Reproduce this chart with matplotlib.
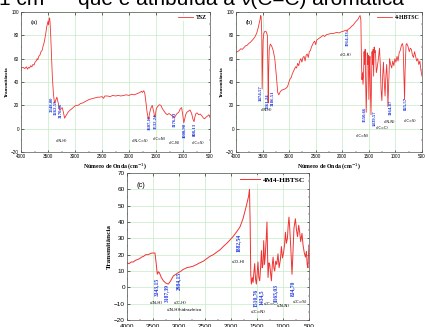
import matplotlib

matplotlib.use("Agg")
import matplotlib.pyplot as plt
from matplotlib.ticker import MultipleLocator

# ---- spectra (wavenumber cm-1, transmittance) ----
tsz_wn = [4000, 3960, 3930, 3900, 3880, 3860, 3840, 3820, 3800, 3780,
          3760, 3740, 3720, 3700, 3690, 3670, 3650, 3630, 3610, 3590,
          3570, 3555, 3540, 3525, 3510, 3500, 3490, 3480, 3470, 3462,
          3450, 3435, 3420, 3400, 3380, 3360, 3336, 3310, 3286, 3260,
          3236, 3215, 3192, 3170, 3130, 3090, 3060, 3036, 3000, 2974,
          2940, 2900, 2860, 2820, 2780, 2740, 2700, 2660, 2620, 2580,
          2540, 2500, 2470, 2450, 2400, 2350, 2300, 2250, 2200, 2150,
          2100, 2050, 2000, 1950, 1900, 1850, 1800, 1770, 1750, 1730,
          1710, 1690, 1665, 1645, 1635, 1620, 1600, 1570, 1545, 1525,
          1510, 1495, 1470, 1440, 1410, 1380, 1350, 1320, 1290, 1260,
          1230, 1200, 1175, 1160, 1140, 1110, 1080, 1050, 1025, 1005,
          985, 970, 950, 930, 900, 870, 840, 815, 795, 780,
          760, 740, 710, 680, 650, 620, 600, 570, 540, 520,
          500]
tsz_t = [52, 52.5, 51.5, 53, 51, 52.5, 52, 54, 53, 55,
         54.5, 57, 58, 60, 59, 62, 63, 66, 67, 71,
         74, 78, 82, 87, 90, 92, 89, 94, 95, 91,
         80, 62, 45, 30, 22, 24, 27, 22, 16, 17,
         18, 14, 9, 11, 14, 16, 17, 18, 19.5, 20,
         20, 21.5, 22, 23, 24, 25, 25.5, 26, 26.5, 27,
         27, 27.5, 26, 28, 28, 27.5, 28.5, 28, 28.5, 28,
         28.5, 29, 28.5, 29.5, 29, 30, 31, 32, 31, 32.5,
         31, 24, 14, 9, 8, 13, 17, 20, 15, 10,
         12, 17, 19, 20.5, 20, 17, 15, 13, 12, 13,
         12, 11, 10, 9, 11, 13, 14, 17, 18, 12,
         5, 8, 12, 14, 15, 16, 13, 8, 6, 10,
         13, 13.5, 12, 12.5, 11, 9, 8.5, 10, 11, 12,
         10]

hbtsc_wn = [4000, 3970, 3940, 3910, 3880, 3850, 3820, 3790, 3760, 3730,
            3700, 3670, 3640, 3610, 3585, 3565, 3550, 3535, 3527, 3515,
            3508, 3500, 3490, 3475, 3455, 3430, 3410, 3400, 3394, 3388,
            3375, 3355, 3330, 3300, 3270, 3240, 3215, 3195, 3170, 3140,
            3110, 3080, 3050, 3030, 3010, 2990, 2960, 2940, 2910, 2880,
            2860, 2840, 2820, 2800, 2780, 2760, 2740, 2720, 2700, 2680,
            2660, 2640, 2620, 2600, 2580, 2560, 2540, 2520, 2500, 2480,
            2450, 2420, 2390, 2360, 2330, 2300, 2260, 2220, 2180, 2140,
            2100, 2060, 2020, 1980, 1950, 1925, 1910, 1895, 1860, 1820,
            1790, 1760, 1730, 1700, 1680, 1665, 1650, 1640, 1630, 1620,
            1610, 1600, 1590, 1580, 1570, 1560, 1550, 1540, 1530, 1520,
            1510, 1500, 1490, 1480, 1470, 1460, 1450, 1440, 1430, 1420,
            1410, 1400, 1390, 1376, 1360, 1344, 1320, 1300, 1285, 1270,
            1255, 1240, 1225, 1210, 1195, 1180, 1165, 1150, 1142, 1130,
            1110, 1090, 1070, 1050, 1030, 1010, 990, 970, 950, 930,
            910, 890, 870, 855, 840, 828, 818, 800, 785, 760,
            740, 720, 700, 680, 660, 640, 620, 600, 580, 560,
            540, 520, 500]
hbtsc_t = [65.5, 66, 67, 68.5, 68, 69.5, 71, 71.5, 73, 74,
           75.5, 77, 79, 82, 86, 90, 93, 97, 96, 80,
           34, 55, 76, 82, 83.5, 83, 80, 50, 22, 45,
           68, 72.5, 71, 67, 60, 45, 31, 29, 31.5, 33,
           33.5, 34, 35, 36, 39, 42, 44, 47, 50, 53,
           52, 56, 54, 58, 60, 57, 61, 62, 58, 63,
           64, 61, 66, 67, 70, 72, 74, 75, 72, 76,
           77, 78, 79, 80, 79, 80.5, 81, 81.5, 81.5, 82,
           82.5, 82, 83, 83.5, 84, 84.5, 83, 85, 86, 88,
           89, 91, 92.5, 94, 96, 97, 93, 60, 42, 48,
           38, 45, 66, 55, 68, 40, 14, 35, 65, 55,
           63, 25, 50, 62, 30, 12, 40, 66, 55, 68,
           45, 70, 65, 67, 48, 52, 60, 69, 55, 33,
           24, 45, 57, 40, 28, 45, 55, 40, 19, 35,
           60, 55, 52, 58, 54, 60, 57, 62, 58, 65,
           67, 71, 73, 70, 45, 25, 50, 72, 73, 70,
           66, 69, 68, 63, 61, 66, 62, 58, 60, 55,
           58, 50, 45]

m4_wn = [4000, 3960, 3920, 3880, 3840, 3800, 3760, 3720, 3680, 3640,
         3600, 3560, 3520, 3490, 3462, 3440, 3417, 3395, 3378, 3340,
         3300, 3250, 3205, 3160, 3109, 3060, 3013, 2960, 2917, 2850,
         2780, 2724, 2660, 2600, 2532, 2470, 2404, 2340, 2276, 2210,
         2148, 2080, 2019, 1950, 1891, 1827, 1769, 1704, 1660, 1645,
         1632, 1620, 1608, 1590, 1575, 1560, 1544, 1528, 1512, 1496,
         1481, 1465, 1448, 1431, 1415, 1400, 1385, 1371, 1355, 1340,
         1322, 1308, 1288, 1270, 1255, 1240, 1223, 1205, 1190, 1175,
         1160, 1140, 1120, 1096, 1075, 1050, 1031, 1010, 990, 970,
         954, 935, 915, 900, 885, 870, 850, 827, 810, 790,
         762, 740, 720, 698, 680, 660, 635, 615, 590, 569,
         550, 535, 520, 510, 500]
m4_t = [15, 14.5, 15.5, 15.5, 16.5, 17, 17.5, 18.5, 19, 20,
        20, 20.5, 21, 21, 21, 15, 8, 9.5, 9, 6,
        4, 2.5, 2, 4, 7, 8, 9, 10, 11, 12,
        12.5, 13, 14, 15, 16, 17.5, 19, 20, 21.5, 23,
        25, 27, 29, 31.5, 34, 37, 42, 50, 56, 60,
        40, 8, 2, 6, 3, 9, 14.5, 5, 2, 9,
        15.5, 6, 4, 12, 22.5, 12, 14, 28.6, 14, 20,
        30, 40, 6, 15, 14, 9, 4, 14, 18.5, 12,
        10, 16, 14, 20.5, 12, 17, 25, 18, 21, 26,
        33.7, 27, 30, 38, 43, 36, 24, 8, 20, 36,
        42, 35, 31, 38, 34, 28, 33, 26, 21, 18.5,
        22, 14, 12, 20, 26]

tsz_peaks = ["3348,00", "3262,55", "3170,96", "1607,11", "1532,24", "1176,93", "1000,90", "808,13"]
hbtsc_peaks = ["3474,57", "3361,24", "3186,51", "1914,33", "1550,66", "1439,57", "1164,87", "825,57"]
m4_peaks = ["3343,15", "3187,39", "2984,15", "1882,54", "1510,76", "1434,5", "1165,03", "834,70"]

RED = "#f03232"
BLUE = "#1f35e0"
GRID = "#c4ecc4"
SERIF = "Liberation Serif"
SANS = "Liberation Sans"


def style_axes(ax, ylim, ymajor, yminor, tick_fs, lab_fs, letter, leg_fs, xlabel=True, xpad=1.5):
    ax.set_xlim(4000, 500)
    ax.set_ylim(*ylim)
    ax.xaxis.set_major_locator(MultipleLocator(500))
    ax.xaxis.set_minor_locator(MultipleLocator(250))
    ax.yaxis.set_major_locator(MultipleLocator(ymajor))
    ax.yaxis.set_minor_locator(MultipleLocator(yminor))
    ax.grid(True, which="major", color=GRID, linewidth=0.5)
    ax.set_axisbelow(True)
    ax.tick_params(which="major", direction="in", length=1.8, width=0.4, labelsize=tick_fs, pad=1.5,
                   top=True, right=True)
    ax.tick_params(axis="x", which="major", pad=xpad)
    ax.tick_params(which="minor", direction="in", length=1.0, width=0.3, top=True, right=True)
    for lab in ax.get_xticklabels() + ax.get_yticklabels():
        lab.set_family(SANS)
    for s in ax.spines.values():
        s.set_linewidth(0.5)
        s.set_color("#555555")
    ax.set_ylabel("Transmitância", family=SERIF, fontweight="bold", fontsize=lab_fs, labelpad=1.5)
    if xlabel:
        ax.set_xlabel("Número de Onda (cm$^{-1}$)", family=SERIF, fontweight="bold",
                      fontsize=lab_fs + 0.6, labelpad=1.2)
    ax.text(0.05, 0.94, letter, transform=ax.transAxes, fontsize=leg_fs, va="top", family=SANS)
    leg = ax.legend(loc="upper right", frameon=True, handlelength=2.6,
                    borderaxespad=0.25, borderpad=0.2, handletextpad=0.5,
                    prop={"family": SERIF, "weight": "bold", "size": leg_fs})
    leg.get_frame().set_edgecolor("none")
    leg.get_frame().set_facecolor("white")


def peak_labels(ax, texts, xs, ytops, fs):
    for t, x, y in zip(texts, xs, ytops):
        ax.text(x, y, t, rotation=90, va="top", ha="center", color=BLUE, fontsize=fs,
                fontweight="bold", family=SERIF)


def notes(ax, items, fs):
    for t, x, y in items:
        ax.text(x, y, t, ha="center", va="center", fontsize=fs, family="DejaVu Sans")


fig = plt.figure(figsize=(4.25, 3.27), dpi=100)
W, H = 425.0, 327.0


def px_axes(x0, y0, x1, y1):
    return fig.add_axes([x0 / W, 1 - y1 / H, (x1 - x0) / W, (y1 - y0) / H])


# top line of running text, cut off by the crop of the page
TOP = [SANS, "DejaVu Sans"]
fig.text(-1 / W, 1 - 5 / H, "1 cm⁻¹", family=TOP, fontsize=15, va="baseline")
fig.text(78 / W, 1 - 5 / H, "que é atribuída a", family=TOP, fontsize=15, va="baseline")
fig.text(240 / W, 1 - 5 / H, "ν(C=C) aromática", family=TOP, fontsize=15, va="baseline")

# (a) TSZ
ax_a = px_axes(21, 12, 210, 152)
ax_a.plot(tsz_wn, tsz_t, color=RED, lw=0.6, label="TSZ")
style_axes(ax_a, (-20, 100), 20, 10, 3.3, 3.6, "(a)", 4.2)
peak_labels(ax_a, tsz_peaks, [3442, 3361, 3267, 1626, 1519, 1167, 979, 791],
            [27.4, 24.6, 22, 11.7, 13.4, 14.3, 4.9, 4.9], 3.4)
notes(ax_a, [("ν(N-H)", 3250, -11), ("ν(N-C=S)", 1800, -11), ("ν(C=N)", 1440, -9),
             ("ν(C-N)", 1160, -12.5), ("ν(C=S)", 720, -12.5)], 2.6)

# (b) 4-HBTSC
ax_b = px_axes(236, 12, 422, 152)
ax_b.plot(hbtsc_wn, hbtsc_t, color=RED, lw=0.6, label="4-HBTSC")
style_axes(ax_b, (-20, 100), 20, 10, 3.3, 3.6, "(b)", 4.2)
peak_labels(ax_b, hbtsc_peaks, [3544, 3416, 3316, 1909, 1591, 1401, 1086, 800],
            [37, 30.6, 33, 84.6, 19, 16, 24.6, 27.4], 3.4)
notes(ax_b, [("ν(N-H)", 3430, 16), ("ν(O-H)", 1928, 63), ("ν(C=N)", 1624, -6),
             ("ν(C=C)", 1243, 0.6), ("ν(N-N)", 1110, 5.7), ("ν(C=S)", 730, 6.6)], 2.6)

# (c) 4M4-HBTSC, its x tick labels run past the bottom of the crop
ax_c = px_axes(127, 173, 309, 320)
ax_c.plot(m4_wn, m4_t, color=RED, lw=0.7, label="4M4-HBTSC")
style_axes(ax_c, (-20, 70), 10, 5, 4.6, 5.2, "(c)", 5.4, xlabel=False, xpad=3.0)
peak_labels(ax_c, m4_peaks, [3429, 3237, 3013, 1863, 1544, 1415, 1160, 820],
            [6, 2, 9.6, 33, -1, -1.6, 2.2, 4.4], 4.0)
notes(ax_c, [("ν(N-H)", 3429, -9.8), ("ν(N-H)hidrazínico", 2900, -13.6), ("ν(C-H)", 2981, -9.8),
             ("ν(O-H)", 1863, 15.4), ("ν(C=N)", 1481, -15), ("ν(C=C)", 1220, -10),
             ("ν(N-N)", 1000, -11.5), ("ν(C=S)", 680, -9)], 3.0)

fig.savefig("out.png", dpi=100)
